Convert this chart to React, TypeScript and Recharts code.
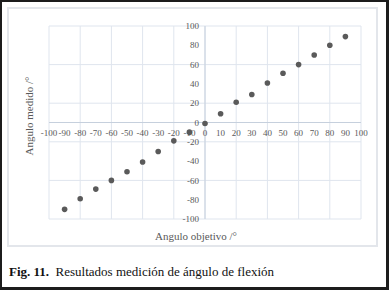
import { ScatterChart, Scatter, XAxis, YAxis, CartesianGrid, ReferenceLine, ReferenceDot } from 'recharts';

// measured angle vs target angle (degrees)
const targetAngles = [-90, -80, -70, -60, -50, -40, -30, -20, -10, 0, 10, 20, 30, 40, 50, 60, 70, 80, 90];
const measuredAngles = [-90, -79, -69, -60, -51, -41, -30, -19, -10, -1, 9, 21, 29, 41, 51, 60, 70, 80, 89];

const xTicks = [-100, -90, -80, -70, -60, -50, -40, -30, -20, -10, 0, 10, 20, 30, 40, 50, 60, 70, 80, 90, 100];
const yTicks = [-100, -80, -60, -40, -20, 0, 20, 40, 60, 80, 100];

const FONT = '"Liberation Serif", "DejaVu Serif", serif';
const GRAY = '#595959';

const Dot = (props: any) => <circle cx={props.cx} cy={props.cy} r={2.8} fill="#5a5a5a" />;

export default function App() {
  const data = targetAngles.map((x, i) => ({ x, y: measuredAngles[i] }));

  return (
    <div style={{ position: 'absolute', left: 0, top: 0, width: 389, height: 290, background: '#fff' }}>
      <div
        style={{
          position: 'absolute', left: 0, top: 0, width: 389, height: 290, boxSizing: 'border-box',
          borderStyle: 'solid', borderColor: '#1c1c1c', borderWidth: '2px 3px 3px 2px',
        }}
      />
      <div
        style={{
          position: 'absolute', left: 7, top: 7, width: 371, height: 240, boxSizing: 'border-box',
          border: '2px solid #e3e6eb',
        }}
      />
      <div style={{ position: 'absolute', left: 0, top: 0 }}>
        <ScatterChart width={389} height={250} margin={{ top: 26, right: 28, bottom: 31, left: 49 }}>
          <CartesianGrid stroke="#dfe5ee" strokeWidth={1} />
          <XAxis type="number" dataKey="x" domain={[-100, 100]} ticks={xTicks} hide />
          <YAxis type="number" dataKey="y" domain={[-100, 100]} ticks={yTicks} hide />
          <ReferenceLine x={0} stroke="#c6d0dd" />
          <ReferenceLine y={0} stroke="#c6d0dd" />
          {xTicks.map(t => (
            <ReferenceDot
              key={'x' + t}
              x={t}
              y={0}
              r={0}
              fill="none"
              stroke="none"
              label={{ value: String(t), position: 'bottom', offset: 7, fill: GRAY, fontSize: 9, fontFamily: FONT }}
            />
          ))}
          {yTicks.map(t => (
            <ReferenceDot
              key={'y' + t}
              x={0}
              y={t}
              r={0}
              fill="none"
              stroke="none"
              label={{ value: String(t), position: 'left', offset: 6, fill: GRAY, fontSize: 9, fontFamily: FONT }}
            />
          ))}
          <Scatter data={data} fill="#5a5a5a" shape={Dot} isAnimationActive={false} />
          <text x={196} y={236} textAnchor="middle" dominantBaseline="central" fill={GRAY} fontSize={11} fontFamily={FONT}>
            Angulo objetivo /°
          </text>
          <text
            x={29}
            y={116}
            textAnchor="middle"
            dominantBaseline="central"
            fill={GRAY}
            fontSize={11}
            fontFamily={FONT}
            transform="rotate(-90 29 116)"
          >
            Angulo medido /°
          </text>
        </ScatterChart>
      </div>
      <div
        style={{
          position: 'absolute', left: 9, top: 264, fontFamily: FONT, fontSize: 13, color: '#111', whiteSpace: 'nowrap',
        }}
      >
        <b>Fig. 11.</b>&nbsp; Resultados medición de ángulo de flexión
      </div>
    </div>
  );
}
